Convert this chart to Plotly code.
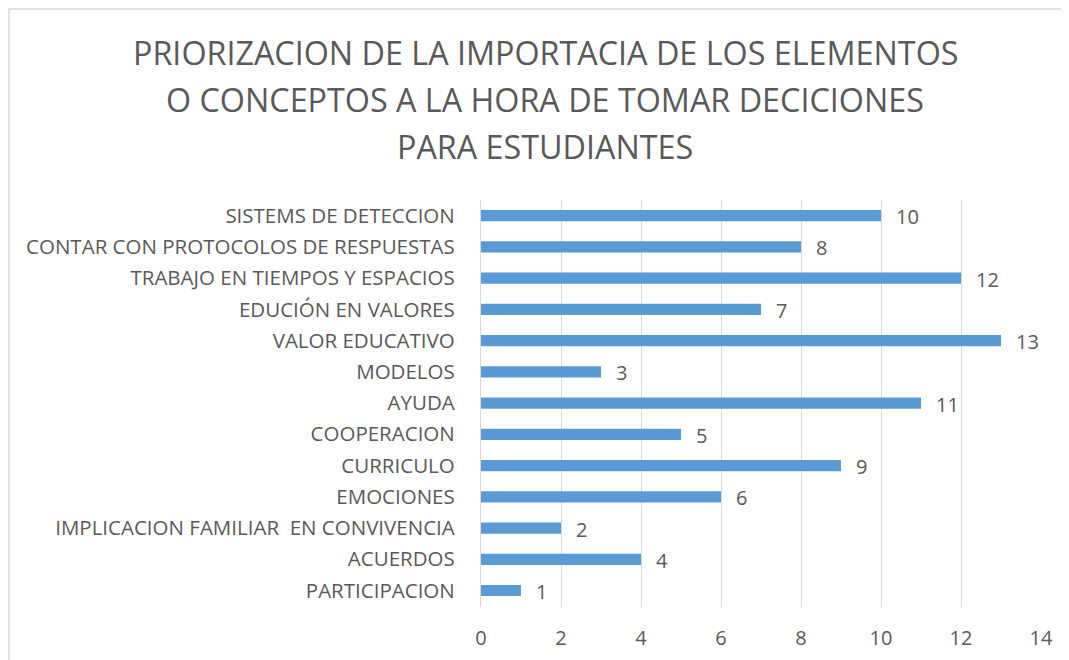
import plotly.graph_objects as go

categorias = [
    "PARTICIPACION",
    "ACUERDOS",
    "IMPLICACION FAMILIAR  EN CONVIVENCIA",
    "EMOCIONES",
    "CURRICULO",
    "COOPERACION",
    "AYUDA",
    "MODELOS",
    "VALOR EDUCATIVO",
    "EDUCIÓN EN VALORES",
    "TRABAJO EN TIEMPOS Y ESPACIOS",
    "CONTAR CON PROTOCOLOS DE RESPUESTAS",
    "SISTEMS DE DETECCION",
]
valores = [1, 4, 2, 6, 9, 5, 11, 3, 13, 7, 12, 8, 10]
ticks_x = [0, 2, 4, 6, 8, 10, 12, 14]

lineas_titulo = [
    "PRIORIZACION DE LA IMPORTACIA DE LOS ELEMENTOS",
    "O CONCEPTOS A LA HORA DE TOMAR DECICIONES",
    "PARA ESTUDIANTES",
]

gris = "#595959"
fuente = "Open Sans"

# la página tiene 8px de margen en el body
W, H = 1061, 652
ml, mr, mt, mb = 473, 28, 192, 53
alto_plot = H - mt - mb
ancho_plot = W - ml - mr

fig = go.Figure(go.Bar(
    y=categorias,
    x=valores,
    orientation="h",
    marker=dict(color="#5B9BD5", line=dict(width=0)),
    hoverinfo="x+y",
))

# etiquetas de datos
for cat, val in zip(categorias, valores):
    fig.add_annotation(
        x=val, y=cat, text=str(val),
        xanchor="left", xshift=13, yshift=-1, showarrow=False,
        font=dict(size=20, color=gris, family=fuente),
    )

# titulo, una linea por anotacion para controlar el interlineado
for i, linea in enumerate(lineas_titulo):
    y_px = 44 + i * 47
    fig.add_annotation(
        text=linea, showarrow=False,
        xref="paper", yref="paper",
        x=(537 - ml) / ancho_plot, xanchor="center",
        y=1 + (mt - y_px) / alto_plot, yanchor="middle",
        font=dict(size=32.3, color=gris, family=fuente),
    )

fig.update_layout(
    width=W,
    height=H,
    autosize=False,
    paper_bgcolor="white",
    plot_bgcolor="white",
    showlegend=False,
    bargap=0.64,
    margin=dict(l=ml, r=mr, t=mt, b=mb),
    font=dict(family=fuente, color=gris),
)

fig.update_xaxes(
    range=[0, 14],
    tickvals=ticks_x,
    automargin=False,
    showgrid=True, gridcolor="#d9d9d9", gridwidth=1.3,
    zeroline=False, showline=False,
    ticks="", ticklabelstandoff=17,
    tickfont=dict(size=20, color=gris, family=fuente),
)
fig.update_yaxes(
    automargin=False,
    showgrid=False, zeroline=False,
    showline=True, linecolor="#d9d9d9", linewidth=1.3,
    ticks="", ticklabelstandoff=21,
    tickfont=dict(size=20.5, color=gris, family=fuente),
)

# borde del grafico
fig.add_shape(type="rect", xref="paper", yref="paper",
              x0=-(ml - 1) / ancho_plot, x1=1.2,
              y0=-0.3, y1=1 + (mt - 1) / alto_plot,
              line=dict(color="#d9d9d9", width=1.5))

fig.write_html("out.html")
